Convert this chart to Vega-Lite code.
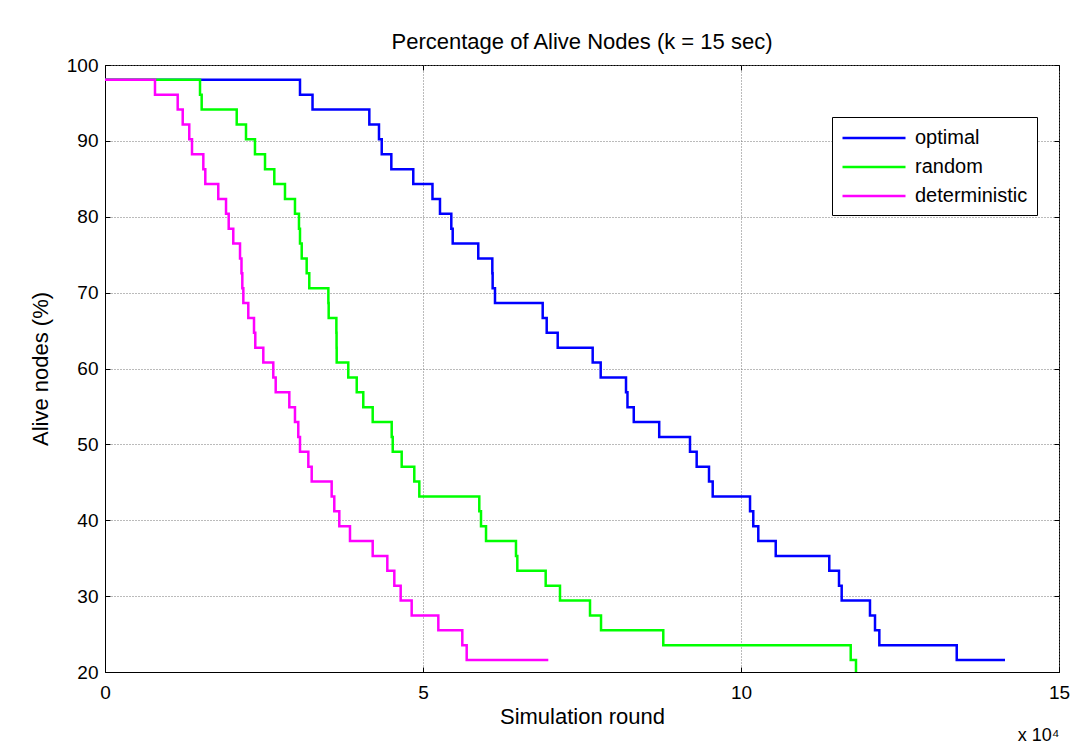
{
  "$schema": "https://vega.github.io/schema/vega-lite/v6.json",
  "width": 954,
  "height": 607,
  "autosize": "none",
  "padding": {"left": 105, "top": 65, "right": 24, "bottom": 77},
  "background": "white",
  "config": {
    "font": "Liberation Sans",
    "view": {"stroke": "black", "strokeWidth": 1},
    "axis": {"labelFont": "Liberation Sans", "titleFont": "Liberation Sans", "labelColor": "black", "titleColor": "black", "domainColor": "black", "tickColor": "black", "titleFontWeight": "normal"}
  },
  "title": {"text": "Percentage of Alive Nodes (k = 15 sec)", "fontSize": 22, "fontWeight": "normal", "font": "Liberation Sans", "offset": 2, "color": "black"},
  "data": {
    "values": [
      {"series": "optimal", "round": 0, "alive": 98.04},
      {"series": "optimal", "round": 30660, "alive": 96.08},
      {"series": "optimal", "round": 32630, "alive": 94.12},
      {"series": "optimal", "round": 41560, "alive": 92.16},
      {"series": "optimal", "round": 43080, "alive": 90.20},
      {"series": "optimal", "round": 43510, "alive": 88.24},
      {"series": "optimal", "round": 45020, "alive": 86.27},
      {"series": "optimal", "round": 48470, "alive": 84.31},
      {"series": "optimal", "round": 51490, "alive": 82.35},
      {"series": "optimal", "round": 52670, "alive": 80.39},
      {"series": "optimal", "round": 54450, "alive": 78.43},
      {"series": "optimal", "round": 54670, "alive": 76.47},
      {"series": "optimal", "round": 58690, "alive": 74.51},
      {"series": "optimal", "round": 60900, "alive": 72.55},
      {"series": "optimal", "round": 60950, "alive": 70.59},
      {"series": "optimal", "round": 61320, "alive": 68.63},
      {"series": "optimal", "round": 68820, "alive": 66.67},
      {"series": "optimal", "round": 69450, "alive": 64.71},
      {"series": "optimal", "round": 71180, "alive": 62.75},
      {"series": "optimal", "round": 76680, "alive": 60.78},
      {"series": "optimal", "round": 77940, "alive": 58.82},
      {"series": "optimal", "round": 81920, "alive": 56.86},
      {"series": "optimal", "round": 82150, "alive": 54.90},
      {"series": "optimal", "round": 83140, "alive": 52.94},
      {"series": "optimal", "round": 87140, "alive": 50.98},
      {"series": "optimal", "round": 91980, "alive": 49.02},
      {"series": "optimal", "round": 93030, "alive": 47.06},
      {"series": "optimal", "round": 94970, "alive": 45.10},
      {"series": "optimal", "round": 95550, "alive": 43.14},
      {"series": "optimal", "round": 101420, "alive": 41.18},
      {"series": "optimal", "round": 101930, "alive": 39.22},
      {"series": "optimal", "round": 102720, "alive": 37.25},
      {"series": "optimal", "round": 105460, "alive": 35.29},
      {"series": "optimal", "round": 113880, "alive": 33.33},
      {"series": "optimal", "round": 115410, "alive": 31.37},
      {"series": "optimal", "round": 115830, "alive": 29.41},
      {"series": "optimal", "round": 120280, "alive": 27.45},
      {"series": "optimal", "round": 121070, "alive": 25.49},
      {"series": "optimal", "round": 121750, "alive": 23.53},
      {"series": "optimal", "round": 133920, "alive": 21.57},
      {"series": "optimal", "round": 141510, "alive": 21.57},
      {"series": "random", "round": 0, "alive": 98.04},
      {"series": "random", "round": 14940, "alive": 96.08},
      {"series": "random", "round": 15200, "alive": 94.12},
      {"series": "random", "round": 20710, "alive": 92.16},
      {"series": "random", "round": 22170, "alive": 90.20},
      {"series": "random", "round": 23580, "alive": 88.24},
      {"series": "random", "round": 25160, "alive": 86.27},
      {"series": "random", "round": 26620, "alive": 84.31},
      {"series": "random", "round": 28300, "alive": 82.35},
      {"series": "random", "round": 29870, "alive": 80.39},
      {"series": "random", "round": 30500, "alive": 78.43},
      {"series": "random", "round": 30660, "alive": 76.47},
      {"series": "random", "round": 30930, "alive": 74.51},
      {"series": "random", "round": 31710, "alive": 72.55},
      {"series": "random", "round": 32120, "alive": 70.59},
      {"series": "random", "round": 35120, "alive": 68.63},
      {"series": "random", "round": 35170, "alive": 66.67},
      {"series": "random", "round": 36380, "alive": 64.71},
      {"series": "random", "round": 36410, "alive": 62.75},
      {"series": "random", "round": 36430, "alive": 60.78},
      {"series": "random", "round": 38250, "alive": 58.82},
      {"series": "random", "round": 39580, "alive": 56.86},
      {"series": "random", "round": 40610, "alive": 54.90},
      {"series": "random", "round": 42090, "alive": 52.94},
      {"series": "random", "round": 45080, "alive": 50.98},
      {"series": "random", "round": 45240, "alive": 49.02},
      {"series": "random", "round": 46650, "alive": 47.06},
      {"series": "random", "round": 48630, "alive": 45.10},
      {"series": "random", "round": 49420, "alive": 43.14},
      {"series": "random", "round": 58850, "alive": 41.18},
      {"series": "random", "round": 59120, "alive": 39.22},
      {"series": "random", "round": 59910, "alive": 37.25},
      {"series": "random", "round": 64620, "alive": 35.29},
      {"series": "random", "round": 64830, "alive": 33.33},
      {"series": "random", "round": 69290, "alive": 31.37},
      {"series": "random", "round": 71540, "alive": 29.41},
      {"series": "random", "round": 76260, "alive": 27.45},
      {"series": "random", "round": 77990, "alive": 25.49},
      {"series": "random", "round": 87780, "alive": 23.53},
      {"series": "random", "round": 117250, "alive": 21.57},
      {"series": "random", "round": 118080, "alive": 19.61},
      {"series": "deterministic", "round": 0, "alive": 98.04},
      {"series": "deterministic", "round": 7860, "alive": 96.08},
      {"series": "deterministic", "round": 11430, "alive": 94.12},
      {"series": "deterministic", "round": 12220, "alive": 92.16},
      {"series": "deterministic", "round": 13250, "alive": 90.20},
      {"series": "deterministic", "round": 13680, "alive": 88.24},
      {"series": "deterministic", "round": 15460, "alive": 86.27},
      {"series": "deterministic", "round": 15770, "alive": 84.31},
      {"series": "deterministic", "round": 17810, "alive": 82.35},
      {"series": "deterministic", "round": 19030, "alive": 80.39},
      {"series": "deterministic", "round": 19450, "alive": 78.43},
      {"series": "deterministic", "round": 20170, "alive": 76.47},
      {"series": "deterministic", "round": 21230, "alive": 74.51},
      {"series": "deterministic", "round": 21460, "alive": 72.55},
      {"series": "deterministic", "round": 21590, "alive": 70.59},
      {"series": "deterministic", "round": 21750, "alive": 68.63},
      {"series": "deterministic", "round": 22530, "alive": 66.67},
      {"series": "deterministic", "round": 23430, "alive": 64.71},
      {"series": "deterministic", "round": 23630, "alive": 62.75},
      {"series": "deterministic", "round": 24890, "alive": 60.78},
      {"series": "deterministic", "round": 26460, "alive": 58.82},
      {"series": "deterministic", "round": 26840, "alive": 56.86},
      {"series": "deterministic", "round": 28980, "alive": 54.90},
      {"series": "deterministic", "round": 29870, "alive": 52.94},
      {"series": "deterministic", "round": 30390, "alive": 50.98},
      {"series": "deterministic", "round": 30660, "alive": 49.02},
      {"series": "deterministic", "round": 31970, "alive": 47.06},
      {"series": "deterministic", "round": 32500, "alive": 45.10},
      {"series": "deterministic", "round": 35640, "alive": 43.14},
      {"series": "deterministic", "round": 36050, "alive": 41.18},
      {"series": "deterministic", "round": 36840, "alive": 39.22},
      {"series": "deterministic", "round": 38520, "alive": 37.25},
      {"series": "deterministic", "round": 42090, "alive": 35.29},
      {"series": "deterministic", "round": 44390, "alive": 33.33},
      {"series": "deterministic", "round": 45490, "alive": 31.37},
      {"series": "deterministic", "round": 46490, "alive": 29.41},
      {"series": "deterministic", "round": 48220, "alive": 27.45},
      {"series": "deterministic", "round": 52410, "alive": 25.49},
      {"series": "deterministic", "round": 56180, "alive": 23.53},
      {"series": "deterministic", "round": 56870, "alive": 21.57},
      {"series": "deterministic", "round": 69700, "alive": 21.57}
    ]
  },
  "layer": [
    {
      "mark": {"type": "line", "interpolate": "step-after", "strokeWidth": 2.5, "clip": true},
      "encoding": {
        "x": {"field": "round", "type": "quantitative", "scale": {"domain": [0, 150000], "nice": false, "zero": false},
          "axis": {"orient": "bottom", "values": [0, 50000, 100000, 150000], "labelExpr": "datum.value / 10000", "title": "Simulation round", "titleFontSize": 22, "labelFontSize": 19, "tickSize": -5, "labelPadding": 16, "titlePadding": 4, "grid": true, "gridDash": [1, 2], "gridColor": "#777777", "gridOpacity": 1, "labelFlush": false}},
        "y": {"field": "alive", "type": "quantitative", "scale": {"domain": [20, 100], "nice": false, "zero": false},
          "axis": {"orient": "left", "values": [20, 30, 40, 50, 60, 70, 80, 90, 100], "title": "Alive nodes (%)", "titleFontSize": 22, "labelFontSize": 19, "tickSize": -5, "labelPadding": 12, "titlePadding": 14, "grid": true, "gridDash": [1, 2], "gridColor": "#777777", "gridOpacity": 1, "labelFlush": false}},
        "color": {"field": "series", "type": "nominal",
          "scale": {"domain": ["optimal", "random", "deterministic"], "range": ["#0000ff", "#00ff00", "#ff00ff"]},
          "legend": {"title": null, "orient": "none", "legendX": 727, "legendY": 52, "symbolType": "M-1,0H5", "symbolStrokeWidth": 2.5, "symbolSize": 441, "labelFontSize": 20, "labelFont": "Liberation Sans", "labelColor": "black", "strokeColor": "black", "fillColor": "white", "padding": 9, "rowPadding": 7, "labelOffset": 50}}
      }
    },
    {
      "mark": {"type": "line", "opacity": 0},
      "encoding": {
        "x": {"field": "round", "type": "quantitative", "axis": {"orient": "top", "values": [0, 50000, 100000, 150000], "labels": false, "title": null, "grid": false, "domain": false, "tickSize": -5}},
        "y": {"field": "alive", "type": "quantitative", "axis": {"orient": "right", "values": [20, 30, 40, 50, 60, 70, 80, 90, 100], "labels": false, "title": null, "grid": false, "domain": false, "tickSize": -5}},
        "detail": {"field": "series"}
      }
    },
    {
      "mark": {"type": "line", "opacity": 0},
      "encoding": {
        "x": {"field": "round", "type": "quantitative", "axis": {"orient": "bottom", "labels": false, "ticks": false, "domain": false, "grid": false, "title": "x 10⁴", "titleFontSize": 18, "titleAnchor": "end", "titlePadding": 54}},
        "y": {"field": "alive", "type": "quantitative", "axis": null},
        "detail": {"field": "series"}
      }
    }
  ],
  "resolve": {"axis": {"x": "independent", "y": "independent"}}
}
